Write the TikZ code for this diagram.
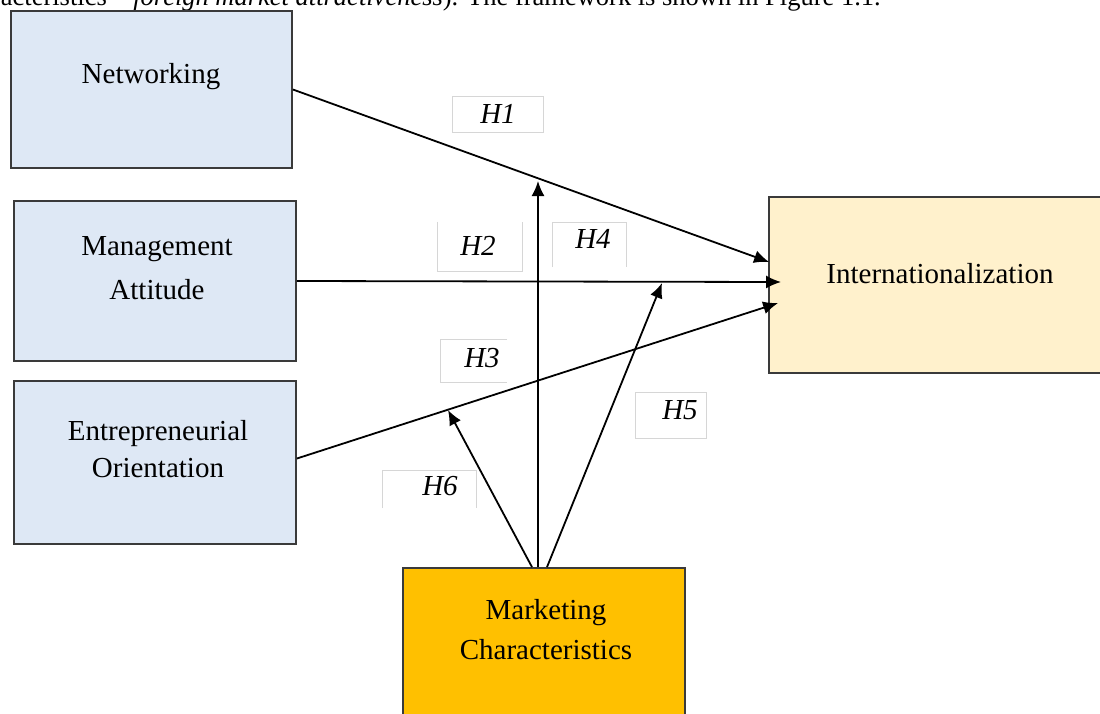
\documentclass[tikz,border=0pt]{standalone}
\usepackage{fontspec}
\setmainfont{Liberation Serif}
\usetikzlibrary{arrows.meta}
\definecolor{boxblue}{HTML}{DEE8F5}
\definecolor{boxcream}{HTML}{FFF1CC}
\definecolor{boxgold}{HTML}{FFC000}
\definecolor{edgegray}{HTML}{3A3A3A}
\definecolor{lblgray}{HTML}{D6D6D6}
\tikzset{
  box/.style={draw=edgegray, line width=1.8pt, rectangle, inner sep=0pt},
  boxtext/.style={anchor=base, inner sep=0pt, font=\fontsize{29}{34}\selectfont},
  lbltext/.style={anchor=base, inner sep=0pt, font=\fontsize{29}{34}\selectfont\itshape},
  lblbox/.style={rectangle, inner sep=0pt},
  lblline/.style={draw=lblgray, line width=1.1pt},
  arr/.style={draw=black, line width=1.8pt, -{Latex[length=15pt,width=13pt]}},
}
\begin{document}
\begin{tikzpicture}[x=1pt,y=-1pt]
\useasboundingbox (0,0) rectangle (1100,713);
\clip (0,0) rectangle (1100,713);
\fill[white] (0,0) rectangle (1100,713);

% cut-off line of body text at the top
\node[anchor=base east, inner sep=0pt, font=\fontsize{26.5}{30}\selectfont] (toptext) at (881,5)
  {acteristics -- \textit{foreign market attractiveness}). The framework is shown in Figure 1.1.};

% main boxes
\node[box, fill=boxblue, minimum width=281pt, minimum height=157pt] (net) at (151.5,89.5) {};
\node[box, fill=boxblue, minimum width=282pt, minimum height=160pt] (man) at (155,281) {};
\node[box, fill=boxblue, minimum width=282pt, minimum height=163pt] (eo) at (155,462.5) {};
\node[box, fill=boxcream, minimum width=333pt, minimum height=176pt] (intl) at (935.5,285) {};
\node[box, fill=boxgold, minimum width=282pt, minimum height=150pt] (mk) at (544,643) {};

% box texts
\node[boxtext] (tnet) at (151,83) {Networking};
\node[boxtext] (tman1) at (157,255) {Management};
\node[boxtext] (tman2) at (157,299) {Attitude};
\node[boxtext] (teo1) at (158,440) {Entrepreneurial};
\node[boxtext] (teo2) at (158,477) {Orientation};
\node[boxtext] (tintl) at (940,283) {Internationalization};
\node[boxtext] (tmk1) at (546,619) {Marketing};
\node[boxtext] (tmk2) at (546,659) {Characteristics};

% hypothesis label boxes
\node[lblbox, minimum width=90pt, minimum height=35pt] (b1) at (498,114.5) {};
\node[lblbox, minimum width=84pt, minimum height=49pt] (b2) at (480,246.5) {};
\node[lblbox, minimum width=73pt, minimum height=44pt] (b4) at (589.5,245) {};
\node[lblbox, minimum width=66pt, minimum height=42pt] (b3) at (474,361) {};
\node[lblbox, minimum width=70pt, minimum height=45pt] (b5) at (671,415.5) {};
\node[lblbox, minimum width=93pt, minimum height=37pt] (b6) at (429.5,489.5) {};
\draw[lblline] (b1.north west) rectangle (b1.south east);
\draw[lblline] (b2.north west) -- (b2.south west) -- (b2.south east) -- (b2.north east);
\draw[lblline] (b4.south west) -- (b4.north west) -- (b4.north east) -- (b4.south east);
\draw[lblline] (b3.north east) -- (b3.north west) -- (b3.south west) -- (b3.south east);
\draw[lblline] (b5.north west) rectangle (b5.south east);
\draw[lblline] (b6.south west) -- (b6.north west) -- (b6.north east) -- (b6.south east);

\node[lbltext] (h1) at (498,123) {H1};
\node[lbltext] (h2) at (478,255) {H2};
\node[lbltext] (h4) at (593,248) {H4};
\node[lbltext] (h3) at (482,367) {H3};
\node[lbltext] (h5) at (680,419) {H5};
\node[lbltext] (h6) at (440,495) {H6};

% moderation target points
\coordinate (p1) at (538,181);
\coordinate (p4) at (662,283);
\coordinate (p6) at (448,410);

% direct effects
\draw[arr] (net.east) -- ([xshift=1pt,yshift=23pt]intl.west);
\draw[arr] (man.east) -- ([xshift=13pt,yshift=3pt]intl.west);
\draw[arr] ([yshift=4pt]eo.east) -- ([xshift=10pt,yshift=-18pt]intl.west);

% moderating effects
\draw[arr] ([xshift=-6pt]mk.north) -- (p1);
\draw[arr] ([xshift=3pt]mk.north) -- (p4);
\draw[arr] ([xshift=-12pt]mk.north) -- (p6);
\end{tikzpicture}
\end{document}
